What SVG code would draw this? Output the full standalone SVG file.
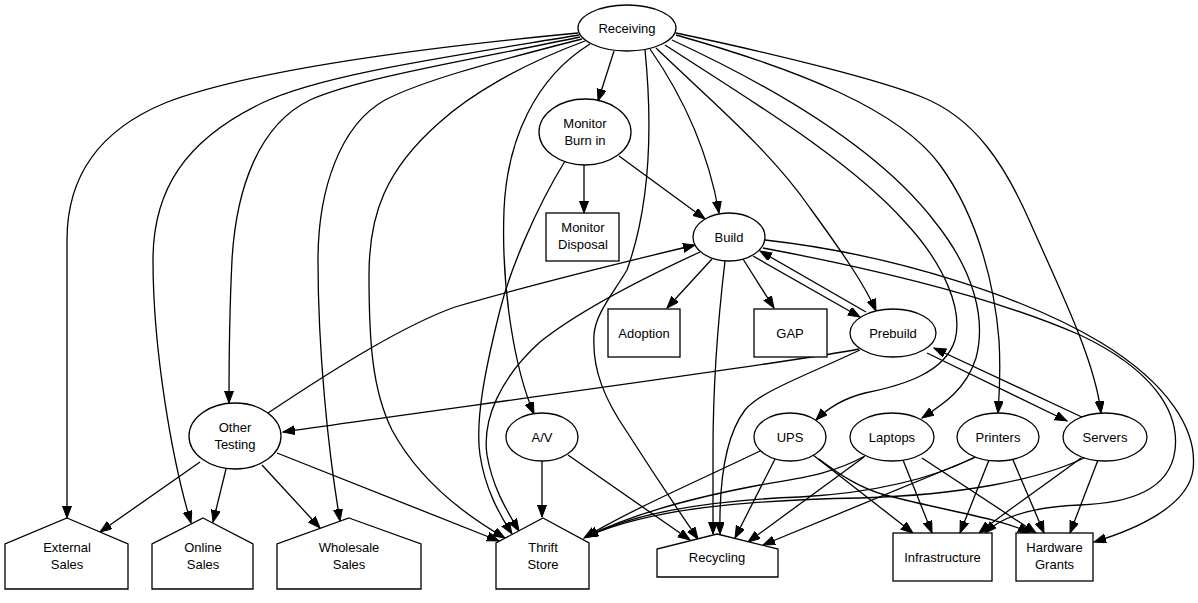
<svg xmlns="http://www.w3.org/2000/svg" width="1198" height="603" viewBox="0 0 1198 603">
<style>
.e path{fill:none;stroke:#000;stroke-width:1.3;marker-end:url(#ah)}
.n ellipse,.n rect,.n polygon{fill:#fff;stroke:#000;stroke-width:1.3}
text{font-family:"Liberation Sans",Arial,Helvetica,sans-serif;font-size:13px;text-anchor:middle;fill:#000}
</style>
<defs>
<marker id="ah" markerUnits="userSpaceOnUse" markerWidth="13" markerHeight="10" refX="12" refY="4.5" orient="auto">
<path d="M0,0 L12,4.5 L0,9 z" fill="#000" stroke="#000" stroke-width="1"/>
</marker>
</defs>
<rect width="1198" height="603" fill="#fff"/>
<g class="e" id="edges">
<path d="M578,33 C 420,48 250,70 165,103 C 95,132 67,180 67,240 L67,518"/>
<path d="M579,35 C 440,58 320,75 262,103 C 185,140 153,190 153,260 C 153,350 172,460 191,523"/>
<path d="M580,37 C 460,62 360,78 310,100 C 258,125 236,190 232,260 C 229,320 229,370 229,403"/>
<path d="M582,39 C 480,65 420,82 385,100 C 340,125 318,190 318,260 C 318,350 328,450 340,521"/>
<path d="M585,41 C 520,65 470,95 440,122 C 385,170 369,215 369,275 C 369,340 372,390 392,430 C 420,482 465,515 505,538"/>
<path d="M590,44 C 535,78 507,140 504,210 C 501,290 515,370 534,414"/>
<path d="M614,51 L598,101"/>
<path d="M645,50 C 652,120 652,200 627,270 C 612,295 595,315 594,335 C 592,370 605,400 627,432 C 650,468 678,510 698,539"/>
<path d="M650,49 C 682,95 708,150 719,213"/>
<path d="M656,48 C 710,100 770,150 810,208 C 842,252 865,285 876,311"/>
<path d="M665,45 C 750,100 850,160 905,222 C 945,265 963,310 955,340 C 945,372 905,385 865,393 C 845,398 828,408 816,420"/>
<path d="M672,40 C 780,90 880,150 935,222 C 975,272 986,320 976,358 C 966,390 942,405 922,418"/>
<path d="M676,35 C 800,70 900,110 940,165 C 980,220 995,290 999,340 C 1001,375 999,398 998,413"/>
<path d="M676,33 C 780,55 880,80 922,97 C 975,118 1005,165 1030,222 C 1060,290 1095,360 1101,413"/>
<path d="M584,165 L584,213"/>
<path d="M619,156 L705,219"/>
<path d="M565,161 C 535,210 510,270 500,310 C 485,370 475,420 480,455 C 485,488 498,512 512,534"/>
<path d="M712,259 L667,308"/>
<path d="M743,259 L774,308"/>
<path d="M753,256 L860,317"/>
<path d="M866,312 L760,251"/>
<path d="M700,252 C 650,275 580,310 540,342 C 500,378 482,420 487,455 C 492,485 505,508 519,531"/>
<path d="M725,261 C 718,320 713,390 713,450 L713,534"/>
<path d="M763,248 C 880,270 1000,300 1080,335 C 1150,368 1180,410 1175,450 C 1170,490 1130,503 1080,505 C 1030,507 1000,518 985,533"/>
<path d="M765,240 C 900,255 1030,300 1100,342 C 1168,383 1198,430 1193,470 C 1188,505 1140,528 1094,542"/>
<path d="M268,413 C 340,365 405,325 455,307 C 530,285 620,263 695,245"/>
<path d="M859,349 C 790,363 420,412 283,432"/>
<path d="M860,350 C 800,378 760,392 745,410 C 726,435 719,480 720,534"/>
<path d="M927,353 L1067,421"/>
<path d="M1084,418 L934,348"/>
<path d="M200,462 L100,532"/>
<path d="M226,469 L213,522"/>
<path d="M262,465 L320,528"/>
<path d="M277,453 L499,541"/>
<path d="M542,461 L542,517"/>
<path d="M568,455 L690,540"/>
<path d="M760,451 C 700,480 630,510 584,538"/>
<path d="M775,459 L735,538"/>
<path d="M813,455 L913,533"/>
<path d="M819,459 C 840,475 860,488 885,495 C 950,512 1000,518 1030,533"/>
<path d="M865,456 C 830,475 800,478 760,485 C 690,498 630,515 586,537"/>
<path d="M864,457 L748,542"/>
<path d="M903,460 L932,533"/>
<path d="M922,458 L1036,533"/>
<path d="M975,457 C 930,480 870,493 800,497 C 720,500 640,510 586,537"/>
<path d="M974,458 L763,545"/>
<path d="M989,460 L960,533"/>
<path d="M1013,460 L1044,533"/>
<path d="M1086,457 C 1040,480 960,495 860,498 C 750,500 650,508 586,537"/>
<path d="M1081,458 C 1045,485 1005,512 979,533"/>
<path d="M1098,460 L1070,533"/>
</g>
<g class="n" id="receiving"><ellipse cx="627" cy="28" rx="49" ry="23"/><text x="627" y="33">Receiving</text></g>
<g class="n" id="monitor-burn-in"><ellipse cx="585" cy="132" rx="46" ry="33"/><text x="585" y="128">Monitor</text><text x="585" y="145">Burn in</text></g>
<g class="n" id="monitor-disposal"><rect x="546" y="213" width="73" height="48"/><text x="583" y="232">Monitor</text><text x="583" y="249">Disposal</text></g>
<g class="n" id="build"><ellipse cx="729" cy="237" rx="36" ry="24"/><text x="729" y="241.5">Build</text></g>
<g class="n" id="adoption"><rect x="608" y="309" width="72" height="48"/><text x="644" y="337.5">Adoption</text></g>
<g class="n" id="gap"><rect x="754" y="309" width="73" height="48"/><text x="790" y="337.5">GAP</text></g>
<g class="n" id="prebuild"><ellipse cx="893" cy="333" rx="43" ry="24"/><text x="893" y="337.5">Prebuild</text></g>
<g class="n" id="other-testing"><ellipse cx="235" cy="436" rx="46" ry="33"/><text x="235" y="432">Other</text><text x="235" y="449">Testing</text></g>
<g class="n" id="av"><ellipse cx="542" cy="437" rx="36" ry="24"/><text x="542" y="441.5">A/V</text></g>
<g class="n" id="ups"><ellipse cx="790" cy="437" rx="36" ry="24"/><text x="790" y="441.5">UPS</text></g>
<g class="n" id="laptops"><ellipse cx="892" cy="437" rx="42" ry="24"/><text x="892" y="441.5">Laptops</text></g>
<g class="n" id="printers"><ellipse cx="998" cy="437" rx="41" ry="24"/><text x="998" y="441.5">Printers</text></g>
<g class="n" id="servers"><ellipse cx="1105" cy="437" rx="42" ry="24"/><text x="1105" y="441.5">Servers</text></g>
<g class="n" id="external-sales"><polygon points="67,518 128,544 128,589 5,589 5,544"/><text x="67" y="552">External</text><text x="67" y="569">Sales</text></g>
<g class="n" id="online-sales"><polygon points="203,518 253,544 253,589 152,589 152,544"/><text x="203" y="552">Online</text><text x="203" y="569">Sales</text></g>
<g class="n" id="wholesale-sales"><polygon points="349,518 421,544 421,589 277,589 277,544"/><text x="349" y="552">Wholesale</text><text x="349" y="569">Sales</text></g>
<g class="n" id="thrift-store"><polygon points="543,518 589,543 589,589 496,589 496,543"/><text x="543" y="552">Thrift</text><text x="543" y="569">Store</text></g>
<g class="n" id="recycling"><polygon points="717,534 778,549 778,577 657,577 657,549"/><text x="717" y="561.5">Recycling</text></g>
<g class="n" id="infrastructure"><rect x="893" y="533" width="99" height="48"/><text x="942.5" y="561.5">Infrastructure</text></g>
<g class="n" id="hardware-grants"><rect x="1016" y="533" width="77" height="48"/><text x="1054.5" y="552">Hardware</text><text x="1054.5" y="569">Grants</text></g>
</svg>
